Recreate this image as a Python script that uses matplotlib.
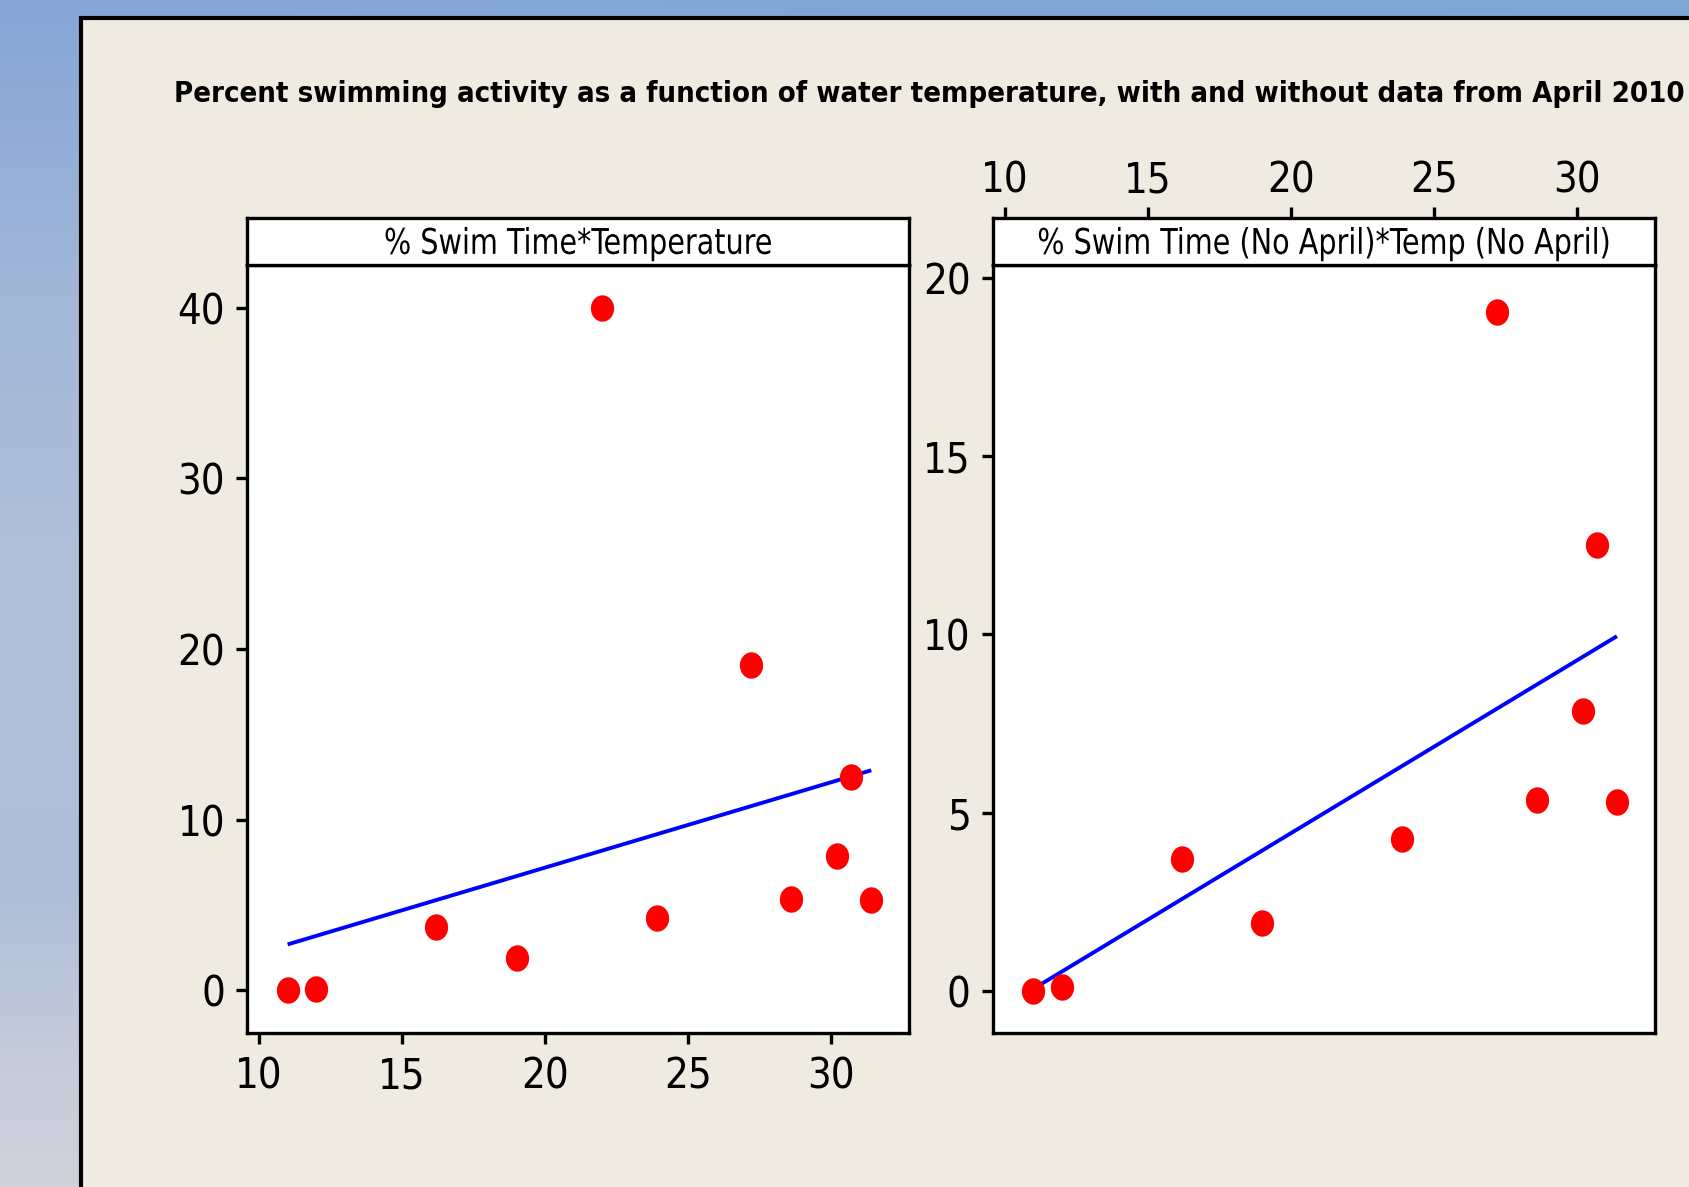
import numpy as np
import matplotlib
matplotlib.use("Agg")
import matplotlib.pyplot as plt
from matplotlib import font_manager as fm
from matplotlib.path import Path
from matplotlib.patches import Rectangle
from matplotlib.patheffects import AbstractPathEffect
from matplotlib.transforms import Affine2D

# ---------------- data ----------------
title = ("Percent swimming activity as a function of water temperature, "
         "with and without data from April 2010")
panel_titles = ["% Swim Time*Temperature",
                "% Swim Time (No April)*Temp (No April)"]
temperature = [11.0, 12.0, 16.2, 19.0, 22.0, 23.9, 27.2, 28.6, 30.2, 30.7, 31.4]
swim_pct = [0.0, 0.1, 3.7, 1.9, 40.0, 4.25, 19.05, 5.35, 7.85, 12.5, 5.3]
is_april = [False, False, False, False, True, False, False, False, False, False, False]
fit_temp = [11.0, 31.4]
fit_all = [2.7, 12.9]
fit_no_april = [0.05, 9.95]
x_ticks = [10, 15, 20, 25, 30]
y_ticks_all = [0, 10, 20, 30, 40]
y_ticks_no_april = [0, 5, 10, 15, 20]

# ---------------- fonts ----------------
def find_font(patterns):
    for pat in patterns:
        for f in fm.fontManager.ttflist:
            name = f.fname.lower().replace("-", "").replace("_", "")
            if pat.lower() in name:
                return f.fname
    return None

narrow = find_font(["LiberationSansNarrowRegular", "DejaVuSansCondensed.ttf",
                    "RobotoCondensedRegular"])
narrow_bold = find_font(["DejaVuSansCondensedBold", "LiberationSansNarrowBold"])

if narrow:
    def fp(size):
        return fm.FontProperties(fname=narrow, size=size)
    tick_size, strip_size, strip_sx = 30, 25.5, 0.9
else:
    def fp(size):
        return fm.FontProperties(family="DejaVu Sans", size=size)
    tick_size, strip_size, strip_sx = 28, 25.5, 0.8

if narrow_bold:
    title_fp = fm.FontProperties(fname=narrow_bold, size=21)
else:
    title_fp = fm.FontProperties(family="DejaVu Sans", weight="bold", size=18.8)


class HStretch(AbstractPathEffect):
    """Draw text horizontally condensed around its ink centre."""
    def __init__(self, sx):
        super().__init__()
        self.sx = sx

    def draw_path(self, renderer, gc, tpath, affine, rgbFace=None):
        ext = tpath.get_extents(affine)
        cx = 0.5 * (ext.x0 + ext.x1)
        new_aff = affine + Affine2D().translate(-cx, 0).scale(self.sx, 1).translate(cx, 0)
        renderer.draw_path(gc, tpath, new_aff, rgbFace)


# ---------------- figure ----------------
W, H = 1690, 1187
fig = plt.figure(figsize=(W / 100, H / 100), dpi=100)

# background gradient (desktop-like blue)
bg = fig.add_axes([0, 0, 1, 1], zorder=-10)
yy = np.linspace(0, 1, 300)[:, None]
xx = np.linspace(0, 1, 200)[None, :]
stops_y = [0.0, 0.25, 0.5, 0.75, 0.9, 1.0]
r = np.interp(yy, stops_y, [0x86, 0xa2, 0xb2, 0xae, 0xc6, 0xd0])
g = np.interp(yy, stops_y, [0xa6, 0xb7, 0xc1, 0xbe, 0xcc, 0xd1])
b = np.interp(yy, stops_y, [0xd6, 0xd8, 0xda, 0xd9, 0xda, 0xda])
img = np.dstack([r * np.ones_like(xx), g * np.ones_like(xx), b * np.ones_like(xx)]) / 255.0
img[:8, :, 0] -= 0.04 * xx[0][None, :]
bg.imshow(np.clip(img, 0, 1), extent=[0, 1, 0, 1], aspect="auto", origin="upper")
bg.set_xlim(0, 1)
bg.set_ylim(0, 1)
bg.axis("off")

# beige panel with black border
fig.patches.append(Rectangle((81 / W, -0.05), 1.2, 1 - 18 / H + 0.05,
                             transform=fig.transFigure, facecolor="#efebe1",
                             edgecolor="black", linewidth=3.0, zorder=-5))

fig.text(929 / W, 1 - 101.5 / H, title, ha="center", va="baseline",
         fontproperties=title_fp, color="black")

# ellipse marker
theta = np.linspace(0, 2 * np.pi, 64)
ellipse = Path(np.column_stack([0.88 * np.cos(theta), np.sin(theta)]), closed=True)

x_lim = (9.59, 32.73)
ylims = [(-2.49, 42.5), (-1.19, 20.37)]
lefts = [247.3 / W, 993 / W]
width = 662 / W
bottom = 1 - 1033 / H
height = (1033 - 265) / H
strip_h = 47 / H
LW = 2.4

temperature_a = np.array(temperature)
swim_a = np.array(swim_pct)
mask_no_april = ~np.array(is_april)

datasets = [
    (temperature_a, swim_a, fit_all, y_ticks_all),
    (temperature_a[mask_no_april], swim_a[mask_no_april], fit_no_april, y_ticks_no_april),
]

for i, (xs, ys, fit_y, yt) in enumerate(datasets):
    ax = fig.add_axes([lefts[i], bottom, width, height])
    ax.set_facecolor("white")
    ax.plot(fit_temp, fit_y, color="#0000ff", lw=2.8, zorder=2, solid_capstyle="butt")
    ax.plot(xs, ys, linestyle="none", marker=ellipse, markersize=19,
            markerfacecolor="#ff0000", markeredgewidth=0, zorder=3)
    ax.set_xlim(*x_lim)
    ax.set_ylim(*ylims[i])
    ax.set_yticks(yt)
    ax.set_yticklabels([str(v) for v in yt])
    for s in ax.spines.values():
        s.set_linewidth(LW)
        s.set_color("black")
    ax.tick_params(axis="y", direction="out", length=8, width=LW, pad=8)
    if i == 0:
        ax.set_xticks(x_ticks)
        ax.set_xticklabels([str(v) for v in x_ticks])
        ax.tick_params(axis="x", direction="out", length=8, width=LW, pad=8)
    else:
        ax.set_xticks([])
    for lbl in ax.get_xticklabels() + ax.get_yticklabels():
        lbl.set_fontproperties(fp(tick_size))

    st = fig.add_axes([lefts[i], bottom + height, width, strip_h])
    st.set_facecolor("white")
    st.set_xlim(*x_lim)
    st.set_yticks([])
    for s in st.spines.values():
        s.set_linewidth(LW)
        s.set_color("black")
    if i == 1:
        st.xaxis.tick_top()
        st.set_xticks(x_ticks)
        st.set_xticklabels([str(v) for v in x_ticks])
        st.tick_params(axis="x", direction="out", length=8, width=LW, pad=4)
        for lbl in st.get_xticklabels():
            lbl.set_fontproperties(fp(tick_size))
    else:
        st.set_xticks([])
    st.text(0.5, 0.45, panel_titles[i], ha="center", va="center",
            transform=st.transAxes, fontproperties=fp(strip_size),
            path_effects=[HStretch(strip_sx)])

fig.savefig("out.png", dpi=100)
